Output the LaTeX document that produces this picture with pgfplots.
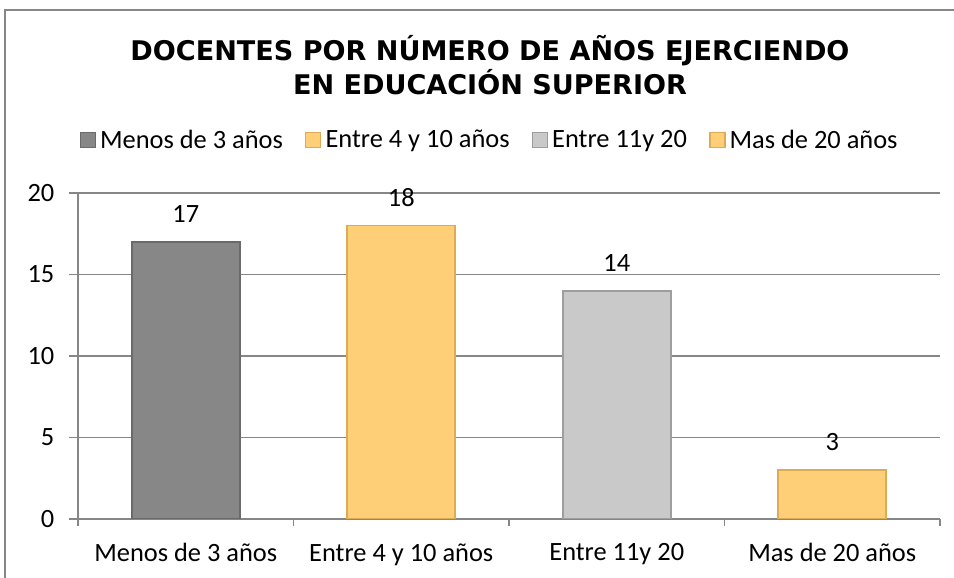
\documentclass[border=0pt]{standalone}
\usepackage{pgfplots}
\pgfplotsset{compat=1.18}
\usepackage{fontspec}
\setmainfont{Carlito}
\newfontfamily\titlefont{DejaVu Sans}

\definecolor{gridgray}{HTML}{868686}
\definecolor{bardark}{HTML}{878787}
\definecolor{bardarkedge}{HTML}{6A6A6A}
\definecolor{barorange}{HTML}{FFCF78}
\definecolor{barorangeedge}{HTML}{DDAA55}
\definecolor{barlight}{HTML}{C9C9C9}
\definecolor{barlightedge}{HTML}{9E9E9E}

\begin{document}
\begin{tikzpicture}
\useasboundingbox (-58.5pt,-44.25pt) rectangle (657pt,389.25pt);
% outer chart frame (only left and top edges are inside the picture)
\draw[gridgray, line width=0.9pt] (-54.75pt,-60pt) -- (-54.75pt,381.75pt) -- (720pt,381.75pt);
\begin{axis}[
  at={(0,0)}, anchor=south west,
  scale only axis, width=646.5pt, height=244.5pt,
  font=\fontsize{19.8}{23}\selectfont,
  ybar, bar width=81pt, bar shift=0pt,
  xmin=-0.5, xmax=3.5, ymin=0, ymax=20,
  xtick={0,1,2,3},
  xticklabels={Menos de 3 años, Entre 4 y 10 años, Entre 11y 20, Mas de 20 años},
  minor xtick={-0.5,0.5,1.5,2.5,3.5},
  ytick={0,5,10,15,20},
  tick align=outside, major tick length=6.75pt, minor tick length=5pt,
  major x tick style={draw=none},
  minor x tick style={gridgray, line width=0.9pt},
  y tick style={gridgray, line width=0.9pt},
  axis x line*=bottom, axis y line*=left,
  axis line style={gridgray, line width=0.9pt},
  ymajorgrids, grid style={gridgray, line width=0.9pt},
  /pgf/number format/assume math mode=true,
  xticklabel style={yshift=-8pt},
  yticklabel style={xshift=-7.5pt},
  nodes near coords,
  every node near coord/.append style={black, yshift=10.5pt},
  legend style={at={(0.478,1.1626)}, anchor=center, draw=none, fill=none,
    /tikz/every even column/.append style={column sep=14.75pt}},
  legend columns=4,
  legend image code/.code={\draw[#1, line width=0.9pt] (0pt,-5.6pt) rectangle (11.25pt,5.6pt);
    \path[draw=none, fill=none] (0pt,0pt) -- (12.75pt,0pt);},
]
\addplot[fill=bardark, draw=bardarkedge, line width=1.2pt] coordinates {(0,17)};
\addlegendentry{Menos de 3 años}
\addplot[fill=barorange, draw=barorangeedge, line width=1.2pt] coordinates {(1,18)};
\addlegendentry{Entre 4 y 10 años}
\addplot[fill=barlight, draw=barlightedge, line width=1.2pt] coordinates {(2,14)};
\addlegendentry{Entre 11y 20}
\addplot[fill=barorange, draw=barorangeedge, line width=1.2pt] coordinates {(3,3)};
\addlegendentry{Mas de 20 años}
\end{axis}
\node[font=\titlefont\bfseries\fontsize{20.3}{25.9}\selectfont, align=center]
  at (309pt,340.3pt) {DOCENTES POR NÚMERO DE AÑOS EJERCIENDO\\EN EDUCACIÓN SUPERIOR};
\end{tikzpicture}
\end{document}
